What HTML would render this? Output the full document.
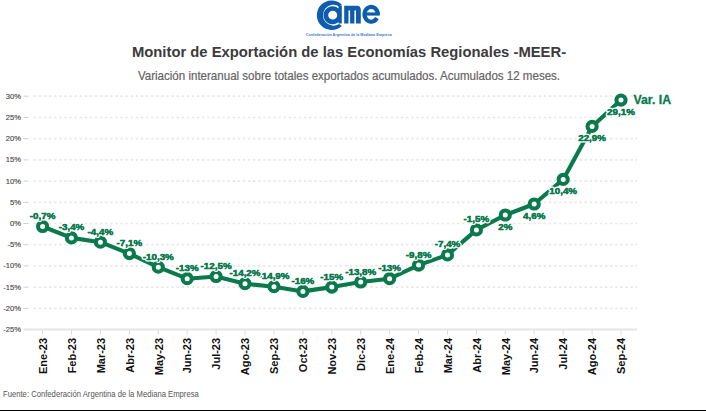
<!DOCTYPE html>
<html><head><meta charset="utf-8"><style>
html,body{margin:0;padding:0;background:#fff;}
body{width:706px;height:411px;position:relative;overflow:hidden;font-family:"Liberation Sans",sans-serif;}
.t{position:absolute;left:0;width:706px;text-align:center;white-space:nowrap;}
#title{top:43.8px;left:-4px;font-size:14.8px;font-weight:bold;color:#3b3b3b;}
#sub{top:69.5px;left:-4px;font-size:11.56px;transform:scaleY(1.08);color:#666;-webkit-text-stroke:0.2px #666;}
#src{position:absolute;left:3px;top:389px;font-size:7.68px;color:#555;transform:scaleY(1.12);transform-origin:0 0;white-space:nowrap;}
#bar{position:absolute;left:0;top:410px;width:706px;height:1px;background:#000;}
svg text{font-family:"Liberation Sans",sans-serif;}
.yl{font-size:7.6px;fill:#4a4a4a;stroke:#4a4a4a;stroke-width:0.15px;text-anchor:end;}
.xl{font-size:11px;font-weight:bold;fill:#111;text-anchor:end;}
.dl{font-size:9.8px;font-weight:bold;fill:#0a7a4c;text-anchor:middle;paint-order:stroke;stroke:#fff;stroke-width:3px;stroke-linejoin:round;}
.dl2{font-size:9.8px;font-weight:bold;fill:#0a7a4c;text-anchor:middle;stroke:#0a7a4c;stroke-width:0.35px;}
.var{font-size:12.3px;font-weight:bold;fill:#0a7a4c;stroke:#0a7a4c;stroke-width:0.3px;}
</style></head><body>
<svg width="706" height="40" style="position:absolute;left:0;top:0" viewBox="0 0 706 40">
<g fill="#0d5cae">
<path d="M341.8 4.4 A14.8 14.8 0 1 0 341.8 26.0 L339.2 24.0 A10.5 10.5 0 1 1 339.2 6.4 Z"/>
<path fill-rule="evenodd" d="M332.7 6.2 A9 9 0 1 0 338.5 21.9 L338.5 23.5 L341.8 23.5 L341.8 5.6 L338.5 5.6 L338.5 8.5 A9 9 0 0 0 332.7 6.2 Z M332.7 10.8 A4.5 4.4 0 1 1 332.7 19.6 A4.5 4.4 0 1 1 332.7 10.8 Z"/>
<path d="M344.2 23.5 L344.2 5.7 L356.8 5.7 Q360.8 5.7 360.8 9.7 L360.8 23.5 L356 23.5 L356 10.8 Q356 10.2 355.2 10.2 Q354.4 10.2 354.4 10.8 L354.4 23.5 L350.1 23.5 L350.1 10.8 Q350.1 10.2 349.3 10.2 Q348.5 10.2 348.5 10.8 L348.5 23.5 Z"/>
<path d="M377.75 14.3 A6.65 7.45 0 1 0 376.86 18.03" fill="none" stroke="#0d5cae" stroke-width="4.1"/>
<rect x="365" y="12.4" width="14.8" height="3.2"/>
</g>
<text x="305.8" y="35.9" textLength="86" lengthAdjust="spacingAndGlyphs" style="font-family:'Liberation Sans',sans-serif;font-size:4.3px;font-weight:bold;fill:#3a7ccc">Confederación Argentina de la Mediana Empresa</text>
</svg>
<div class="t" id="title">Monitor de Exportación de las Economías Regionales -MEER-</div>
<div class="t" id="sub">Variación interanual sobre totales exportados acumulados. Acumulados 12 meses.</div>
<svg width="706" height="411" style="position:absolute;left:0;top:0" viewBox="0 0 706 411">
<line x1="23.5" y1="96.2" x2="28.5" y2="96.2" stroke="#cfcfcf" stroke-width="1"/>
<line x1="33.7" y1="96.2" x2="637" y2="96.2" stroke="#e8e8e8" stroke-width="1.7" stroke-dasharray="2.4,2.7"/>
<text x="21" y="98.7" class="yl">30%</text>
<line x1="23.5" y1="117.5" x2="28.5" y2="117.5" stroke="#cfcfcf" stroke-width="1"/>
<line x1="33.7" y1="117.5" x2="637" y2="117.5" stroke="#e8e8e8" stroke-width="1.7" stroke-dasharray="2.4,2.7"/>
<text x="21" y="119.9" class="yl">25%</text>
<line x1="23.5" y1="138.7" x2="28.5" y2="138.7" stroke="#cfcfcf" stroke-width="1"/>
<line x1="33.7" y1="138.7" x2="637" y2="138.7" stroke="#e8e8e8" stroke-width="1.7" stroke-dasharray="2.4,2.7"/>
<text x="21" y="141.1" class="yl">20%</text>
<line x1="23.5" y1="159.9" x2="28.5" y2="159.9" stroke="#cfcfcf" stroke-width="1"/>
<line x1="33.7" y1="159.9" x2="637" y2="159.9" stroke="#e8e8e8" stroke-width="1.7" stroke-dasharray="2.4,2.7"/>
<text x="21" y="162.3" class="yl">15%</text>
<line x1="23.5" y1="181.1" x2="28.5" y2="181.1" stroke="#cfcfcf" stroke-width="1"/>
<line x1="33.7" y1="181.1" x2="637" y2="181.1" stroke="#e8e8e8" stroke-width="1.7" stroke-dasharray="2.4,2.7"/>
<text x="21" y="183.5" class="yl">10%</text>
<line x1="23.5" y1="202.3" x2="28.5" y2="202.3" stroke="#cfcfcf" stroke-width="1"/>
<line x1="33.7" y1="202.3" x2="637" y2="202.3" stroke="#e8e8e8" stroke-width="1.7" stroke-dasharray="2.4,2.7"/>
<text x="21" y="204.7" class="yl">5%</text>
<line x1="23.5" y1="223.5" x2="28.5" y2="223.5" stroke="#cfcfcf" stroke-width="1"/>
<line x1="33.7" y1="223.5" x2="637" y2="223.5" stroke="#e8e8e8" stroke-width="1.7" stroke-dasharray="2.4,2.7"/>
<text x="21" y="225.9" class="yl">0%</text>
<line x1="23.5" y1="244.7" x2="28.5" y2="244.7" stroke="#cfcfcf" stroke-width="1"/>
<line x1="33.7" y1="244.7" x2="637" y2="244.7" stroke="#e8e8e8" stroke-width="1.7" stroke-dasharray="2.4,2.7"/>
<text x="21" y="247.1" class="yl">-5%</text>
<line x1="23.5" y1="265.9" x2="28.5" y2="265.9" stroke="#cfcfcf" stroke-width="1"/>
<line x1="33.7" y1="265.9" x2="637" y2="265.9" stroke="#e8e8e8" stroke-width="1.7" stroke-dasharray="2.4,2.7"/>
<text x="21" y="268.3" class="yl">-10%</text>
<line x1="23.5" y1="287.1" x2="28.5" y2="287.1" stroke="#cfcfcf" stroke-width="1"/>
<line x1="33.7" y1="287.1" x2="637" y2="287.1" stroke="#e8e8e8" stroke-width="1.7" stroke-dasharray="2.4,2.7"/>
<text x="21" y="289.5" class="yl">-15%</text>
<line x1="23.5" y1="308.4" x2="28.5" y2="308.4" stroke="#cfcfcf" stroke-width="1"/>
<line x1="33.7" y1="308.4" x2="637" y2="308.4" stroke="#e8e8e8" stroke-width="1.7" stroke-dasharray="2.4,2.7"/>
<text x="21" y="310.8" class="yl">-20%</text>
<line x1="23.5" y1="329.6" x2="637" y2="329.6" stroke="#e6e6e6" stroke-width="2"/>
<text x="21" y="332.0" class="yl">-25%</text>
<line x1="42.6" y1="329.6" x2="42.6" y2="334.9" stroke="#dcdcdc" stroke-width="1"/>
<text transform="translate(46.8,337.9) rotate(-90)" class="xl">Ene-23</text>
<line x1="71.5" y1="329.6" x2="71.5" y2="334.9" stroke="#dcdcdc" stroke-width="1"/>
<text transform="translate(75.7,337.9) rotate(-90)" class="xl">Feb-23</text>
<line x1="100.4" y1="329.6" x2="100.4" y2="334.9" stroke="#dcdcdc" stroke-width="1"/>
<text transform="translate(104.6,337.9) rotate(-90)" class="xl">Mar-23</text>
<line x1="129.4" y1="329.6" x2="129.4" y2="334.9" stroke="#dcdcdc" stroke-width="1"/>
<text transform="translate(133.6,337.9) rotate(-90)" class="xl">Abr-23</text>
<line x1="158.3" y1="329.6" x2="158.3" y2="334.9" stroke="#dcdcdc" stroke-width="1"/>
<text transform="translate(162.5,337.9) rotate(-90)" class="xl">May-23</text>
<line x1="187.2" y1="329.6" x2="187.2" y2="334.9" stroke="#dcdcdc" stroke-width="1"/>
<text transform="translate(191.4,337.9) rotate(-90)" class="xl">Jun-23</text>
<line x1="216.1" y1="329.6" x2="216.1" y2="334.9" stroke="#dcdcdc" stroke-width="1"/>
<text transform="translate(220.3,337.9) rotate(-90)" class="xl">Jul-23</text>
<line x1="245.0" y1="329.6" x2="245.0" y2="334.9" stroke="#dcdcdc" stroke-width="1"/>
<text transform="translate(249.2,337.9) rotate(-90)" class="xl">Ago-23</text>
<line x1="274.0" y1="329.6" x2="274.0" y2="334.9" stroke="#dcdcdc" stroke-width="1"/>
<text transform="translate(278.2,337.9) rotate(-90)" class="xl">Sep-23</text>
<line x1="302.9" y1="329.6" x2="302.9" y2="334.9" stroke="#dcdcdc" stroke-width="1"/>
<text transform="translate(307.1,337.9) rotate(-90)" class="xl">Oct-23</text>
<line x1="331.8" y1="329.6" x2="331.8" y2="334.9" stroke="#dcdcdc" stroke-width="1"/>
<text transform="translate(336.0,337.9) rotate(-90)" class="xl">Nov-23</text>
<line x1="360.7" y1="329.6" x2="360.7" y2="334.9" stroke="#dcdcdc" stroke-width="1"/>
<text transform="translate(364.9,337.9) rotate(-90)" class="xl">Dic-23</text>
<line x1="389.6" y1="329.6" x2="389.6" y2="334.9" stroke="#dcdcdc" stroke-width="1"/>
<text transform="translate(393.8,337.9) rotate(-90)" class="xl">Ene-24</text>
<line x1="418.6" y1="329.6" x2="418.6" y2="334.9" stroke="#dcdcdc" stroke-width="1"/>
<text transform="translate(422.8,337.9) rotate(-90)" class="xl">Feb-24</text>
<line x1="447.5" y1="329.6" x2="447.5" y2="334.9" stroke="#dcdcdc" stroke-width="1"/>
<text transform="translate(451.7,337.9) rotate(-90)" class="xl">Mar-24</text>
<line x1="476.4" y1="329.6" x2="476.4" y2="334.9" stroke="#dcdcdc" stroke-width="1"/>
<text transform="translate(480.6,337.9) rotate(-90)" class="xl">Abr-24</text>
<line x1="505.3" y1="329.6" x2="505.3" y2="334.9" stroke="#dcdcdc" stroke-width="1"/>
<text transform="translate(509.5,337.9) rotate(-90)" class="xl">May-24</text>
<line x1="534.2" y1="329.6" x2="534.2" y2="334.9" stroke="#dcdcdc" stroke-width="1"/>
<text transform="translate(538.4,337.9) rotate(-90)" class="xl">Jun-24</text>
<line x1="563.2" y1="329.6" x2="563.2" y2="334.9" stroke="#dcdcdc" stroke-width="1"/>
<text transform="translate(567.4,337.9) rotate(-90)" class="xl">Jul-24</text>
<line x1="592.1" y1="329.6" x2="592.1" y2="334.9" stroke="#dcdcdc" stroke-width="1"/>
<text transform="translate(596.3,337.9) rotate(-90)" class="xl">Ago-24</text>
<line x1="621.0" y1="329.6" x2="621.0" y2="334.9" stroke="#dcdcdc" stroke-width="1"/>
<text transform="translate(625.2,337.9) rotate(-90)" class="xl">Sep-24</text>
<polyline points="42.6,226.5 71.5,237.9 100.4,242.2 129.4,253.6 158.3,267.2 187.2,278.7 216.1,276.5 245.0,283.7 274.0,286.7 302.9,291.4 331.8,287.1 360.7,282.0 389.6,278.7 418.6,265.1 447.5,254.9 476.4,229.9 505.3,215.0 534.2,204.0 563.2,179.4 592.1,126.4 621.0,100.1" fill="none" stroke="#0a7a4c" stroke-width="4.1" stroke-linejoin="round"/>
<circle cx="42.6" cy="226.5" r="4.55" fill="#fff" stroke="#0a7a4c" stroke-width="4.1"/>
<circle cx="71.5" cy="237.9" r="4.55" fill="#fff" stroke="#0a7a4c" stroke-width="4.1"/>
<circle cx="100.4" cy="242.2" r="4.55" fill="#fff" stroke="#0a7a4c" stroke-width="4.1"/>
<circle cx="129.4" cy="253.6" r="4.55" fill="#fff" stroke="#0a7a4c" stroke-width="4.1"/>
<circle cx="158.3" cy="267.2" r="4.55" fill="#fff" stroke="#0a7a4c" stroke-width="4.1"/>
<circle cx="187.2" cy="278.7" r="4.55" fill="#fff" stroke="#0a7a4c" stroke-width="4.1"/>
<circle cx="216.1" cy="276.5" r="4.55" fill="#fff" stroke="#0a7a4c" stroke-width="4.1"/>
<circle cx="245.0" cy="283.7" r="4.55" fill="#fff" stroke="#0a7a4c" stroke-width="4.1"/>
<circle cx="274.0" cy="286.7" r="4.55" fill="#fff" stroke="#0a7a4c" stroke-width="4.1"/>
<circle cx="302.9" cy="291.4" r="4.55" fill="#fff" stroke="#0a7a4c" stroke-width="4.1"/>
<circle cx="331.8" cy="287.1" r="4.55" fill="#fff" stroke="#0a7a4c" stroke-width="4.1"/>
<circle cx="360.7" cy="282.0" r="4.55" fill="#fff" stroke="#0a7a4c" stroke-width="4.1"/>
<circle cx="389.6" cy="278.7" r="4.55" fill="#fff" stroke="#0a7a4c" stroke-width="4.1"/>
<circle cx="418.6" cy="265.1" r="4.55" fill="#fff" stroke="#0a7a4c" stroke-width="4.1"/>
<circle cx="447.5" cy="254.9" r="4.55" fill="#fff" stroke="#0a7a4c" stroke-width="4.1"/>
<circle cx="476.4" cy="229.9" r="4.55" fill="#fff" stroke="#0a7a4c" stroke-width="4.1"/>
<circle cx="505.3" cy="215.0" r="4.55" fill="#fff" stroke="#0a7a4c" stroke-width="4.1"/>
<circle cx="534.2" cy="204.0" r="4.55" fill="#fff" stroke="#0a7a4c" stroke-width="4.1"/>
<circle cx="563.2" cy="179.4" r="4.55" fill="#fff" stroke="#0a7a4c" stroke-width="4.1"/>
<circle cx="592.1" cy="126.4" r="4.55" fill="#fff" stroke="#0a7a4c" stroke-width="4.1"/>
<circle cx="621.0" cy="100.1" r="4.55" fill="#fff" stroke="#0a7a4c" stroke-width="4.1"/>
<text x="621.0" y="114.6" class="dl">29,1%</text>
<text x="621.0" y="114.6" class="dl2">29,1%</text>
<text x="592.1" y="140.9" class="dl">22,9%</text>
<text x="592.1" y="140.9" class="dl2">22,9%</text>
<text x="563.2" y="193.9" class="dl">10,4%</text>
<text x="563.2" y="193.9" class="dl2">10,4%</text>
<text x="534.2" y="218.5" class="dl">4,6%</text>
<text x="534.2" y="218.5" class="dl2">4,6%</text>
<text x="505.3" y="229.5" class="dl">2%</text>
<text x="505.3" y="229.5" class="dl2">2%</text>
<text x="476.4" y="222.4" class="dl">-1,5%</text>
<text x="476.4" y="222.4" class="dl2">-1,5%</text>
<text x="447.5" y="247.4" class="dl">-7,4%</text>
<text x="447.5" y="247.4" class="dl2">-7,4%</text>
<text x="418.6" y="257.6" class="dl">-9,8%</text>
<text x="418.6" y="257.6" class="dl2">-9,8%</text>
<text x="389.6" y="271.2" class="dl">-13%</text>
<text x="389.6" y="271.2" class="dl2">-13%</text>
<text x="360.7" y="274.5" class="dl">-13,8%</text>
<text x="360.7" y="274.5" class="dl2">-13,8%</text>
<text x="331.8" y="279.6" class="dl">-15%</text>
<text x="331.8" y="279.6" class="dl2">-15%</text>
<text x="302.9" y="283.9" class="dl">-16%</text>
<text x="302.9" y="283.9" class="dl2">-16%</text>
<text x="274.0" y="279.2" class="dl">-14,9%</text>
<text x="274.0" y="279.2" class="dl2">-14,9%</text>
<text x="245.0" y="276.2" class="dl">-14,2%</text>
<text x="245.0" y="276.2" class="dl2">-14,2%</text>
<text x="216.1" y="269.0" class="dl">-12,5%</text>
<text x="216.1" y="269.0" class="dl2">-12,5%</text>
<text x="187.2" y="271.2" class="dl">-13%</text>
<text x="187.2" y="271.2" class="dl2">-13%</text>
<text x="158.3" y="259.7" class="dl">-10,3%</text>
<text x="158.3" y="259.7" class="dl2">-10,3%</text>
<text x="129.4" y="246.1" class="dl">-7,1%</text>
<text x="129.4" y="246.1" class="dl2">-7,1%</text>
<text x="100.4" y="234.7" class="dl">-4,4%</text>
<text x="100.4" y="234.7" class="dl2">-4,4%</text>
<text x="71.5" y="230.4" class="dl">-3,4%</text>
<text x="71.5" y="230.4" class="dl2">-3,4%</text>
<text x="42.6" y="219.0" class="dl">-0,7%</text>
<text x="42.6" y="219.0" class="dl2">-0,7%</text>
<text x="633.5" y="103.8" class="var">Var. IA</text>
</svg>
<div id="src">Fuente: Confederación Argentina de la Mediana Empresa</div>
<div id="bar"></div>
</body></html>
